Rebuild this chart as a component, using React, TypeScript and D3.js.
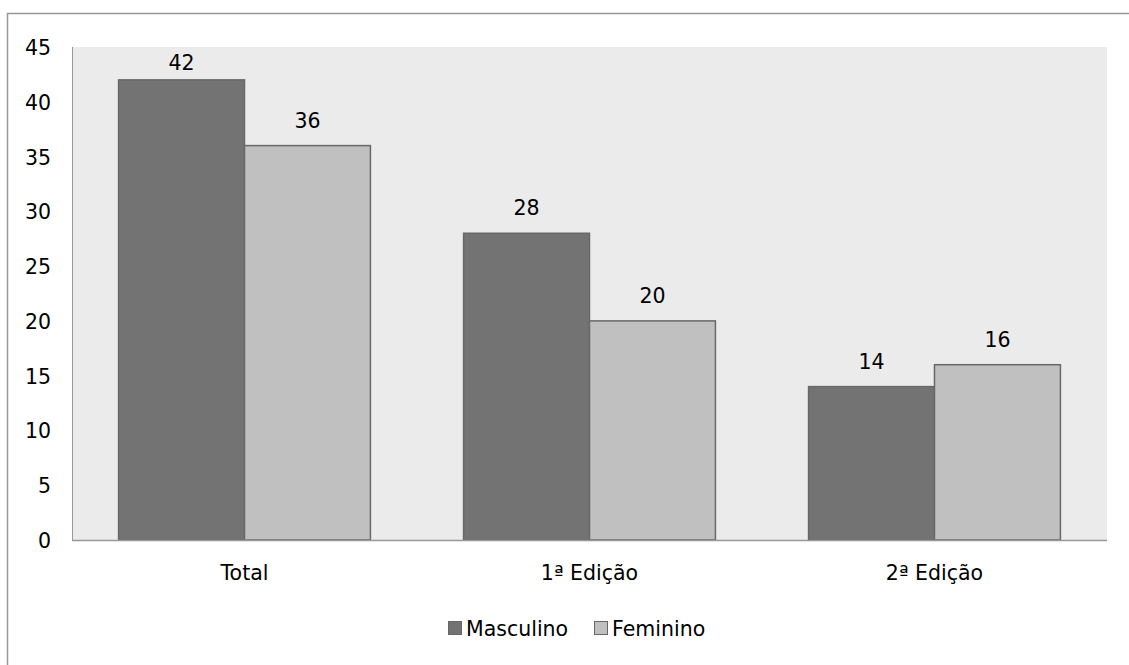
import React from "react";
import * as d3 from "d3";

const categories = ["Total", "1ª Edição", "2ª Edição"];
const seriesNames = ["Masculino", "Feminino"];
const masculino = [42, 28, 14];
const feminino = [36, 20, 16];
const yTicks = [0, 5, 10, 15, 20, 25, 30, 35, 40, 45];

const W = 1129;
const H = 665;
const FONT = "'DejaVu Sans', sans-serif";
const FS = 20.5;
const fills = ["#737373", "#c0c0c0"];

export default function App() {
  const left = 72, right = 1107, top = 47, bottom = 540;
  const x = d3.scaleBand<string>().domain(categories).range([left, right]).paddingInner(0.27).paddingOuter(0.135);
  const xs = d3.scaleBand<string>().domain(seriesNames).range([0, x.bandwidth()]);
  const y = d3.scaleLinear().domain([0, 45]).range([bottom, top]);
  const data = [masculino, feminino];

  return (
    <svg width={W} height={H} style={{ position: "absolute", left: 0, top: 0 }} fontFamily={FONT}>
      <rect x={0} y={0} width={W} height={H} fill="#fff" />
      <rect x={7.5} y={13.5} width={W} height={H} fill="none" stroke="#999" strokeWidth={1.5} />
      <rect x={left} y={top} width={right - left} height={bottom - top} fill="#ebebeb" />
      <line x1={left + 0.5} x2={left + 0.5} y1={top} y2={bottom} stroke="#999" />
      {yTicks.map((t) => (
        <text key={t} x={51} y={y(t) + 8} textAnchor="end" fontSize={FS} fill="#000">{t}</text>
      ))}
      {categories.map((c, ci) => (
        <g key={c}>
          {data.map((vals, si) => {
            const bx = (x(c) as number) + (xs(seriesNames[si]) as number);
            const bw = xs.bandwidth();
            return (
              <g key={si}>
                <rect x={bx} y={y(vals[ci])} width={bw} height={bottom - y(vals[ci])} fill={fills[si]} stroke="#686868" strokeWidth={1.5} />
                <text x={bx + bw / 2} y={Math.max(y(vals[ci]) - 18, top + 23)} textAnchor="middle" fontSize={FS} fill="#000">{vals[ci]}</text>
              </g>
            );
          })}
          <text x={(x(c) as number) + x.bandwidth() / 2} y={580} textAnchor="middle" fontSize={FS} fill="#000">{c}</text>
        </g>
      ))}
      <line x1={left} x2={right} y1={bottom + 0.5} y2={bottom + 0.5} stroke="#999" strokeWidth={1.5} />
      {seriesNames.map((s, i) => {
        const lx = [448, 594][i];
        return (
          <g key={s}>
            <rect x={lx + 0.5} y={621.5} width={13} height={13} fill={fills[i]} stroke="#666" />
            <text x={lx + 18} y={636} fontSize={FS} fill="#000">{s}</text>
          </g>
        );
      })}
    </svg>
  );
}
